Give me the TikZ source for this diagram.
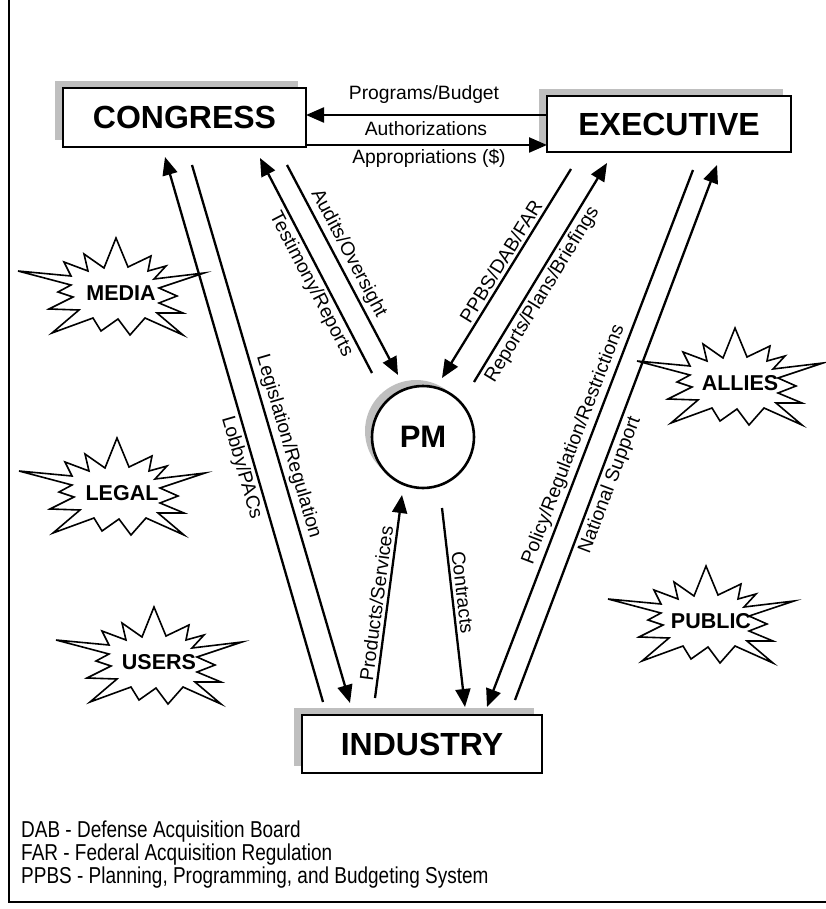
\documentclass[tikz,border=0pt]{standalone}
\usepackage{fontspec}
\setmainfont{Liberation Sans}
\newfontfamily\legendfont[FakeStretch=0.825]{Liberation Sans}
\usetikzlibrary{arrows.meta,shadows}

\begin{document}
\begin{tikzpicture}[x=1pt,y=-1pt,
  bx/.style={draw,line width=2.6pt,fill=white,inner sep=0pt,
    font=\fontsize{32}{38}\selectfont\bfseries,
    general shadow={shadow xshift=-8pt,shadow yshift=7pt,fill=gray!50}},
  pmnode/.style={draw,circle,line width=2.6pt,fill=white,inner sep=0pt,minimum size=102pt,
    font=\fontsize{31}{37}\selectfont\bfseries,
    general shadow={shadow xshift=-7pt,shadow yshift=6pt,fill=gray!50}},
  arr/.style={line width=2.3pt,-{Triangle[length=18pt,width=15pt]}},
  lab/.style={font=\fontsize{19.3}{23}\selectfont,inner sep=3pt},
  hlab/.style={font=\fontsize{19.3}{23}\selectfont,inner sep=0pt,anchor=base},
  burstline/.style={line width=1.6pt,line join=miter},
  bursttext/.style={font=\fontsize{21.5}{25}\selectfont\bfseries,inner sep=0pt},
  leg/.style={font=\legendfont\fontsize{23}{27}\selectfont,anchor=base west,inner sep=0pt}]

\useasboundingbox (0,0) rectangle (826,909);

% frame
\draw[line width=1.6pt] (9,0) -- (9,902) -- (826,902);

% main nodes
\node[bx,minimum width=243pt,minimum height=59pt] (congress) at (184.5,117.5) {CONGRESS};
\node[bx,minimum width=244pt,minimum height=56pt] (executive) at (669,124) {EXECUTIVE};
\node[bx,minimum width=240pt,minimum height=58pt] (industry) at (422,744) {INDUSTRY};
\node[pmnode] (pm) at (423,437) {PM};

% horizontal connectors
\coordinate (pbA) at (547,115);
\coordinate (pbB) at (306,115);
\coordinate (apA) at (306,145);
\coordinate (apB) at (547,145);
\draw[arr] (pbA) -- (pbB);
\draw[arr] (apA) -- (apB);
\node[hlab] (lprog) at (424,99.5) {Programs/Budget};
\node[hlab] (lauth) at (426,136) {Authorizations};
\node[hlab] (lappr) at (429,164) {Appropriations (\$)};

% diagonal connector end points
\coordinate (lobA) at (323,702);  \coordinate (lobB) at (165,157);
\coordinate (legA) at (192,165);  \coordinate (legB) at (350,703);
\coordinate (tesA) at (372,373);  \coordinate (tesB) at (260,158);
\coordinate (audA) at (287,165);  \coordinate (audB) at (398,375);
\coordinate (ppbA) at (571,169);  \coordinate (ppbB) at (442,378);
\coordinate (repA) at (474,382);  \coordinate (repB) at (607,163);
\coordinate (polA) at (693,170);  \coordinate (polB) at (487,707);
\coordinate (natA) at (515,700);  \coordinate (natB) at (717,165);
\coordinate (proA) at (375,698);  \coordinate (proB) at (402,495);
\coordinate (conA) at (442,508);  \coordinate (conB) at (465,707);

\draw[arr] (lobA) -- node[lab,sloped,below,pos=0.437] (llob) {Lobby/PACs} (lobB);
\draw[arr] (legA) -- node[lab,sloped,above,pos=0.53] (lleg) {Legislation/Regulation} (legB);
\draw[arr] (tesA) -- node[lab,sloped,below,pos=0.44] (ltes) {Testimony/Reports} (tesB);
\draw[arr] (audA) -- node[lab,sloped,above,pos=0.45] (laud) {Audits/Oversight} (audB);
\draw[arr] (ppbA) -- node[lab,sloped,above,pos=0.47] (lppb) {PPBS/DAB/FAR} (ppbB);
\draw[arr] (repA) -- node[lab,sloped,below,pos=0.43] (lrep) {Reports/Plans/Briefings} (repB);
\draw[arr] (polA) -- node[lab,sloped,above,pos=0.52] (lpol) {Policy/Regulation/Restrictions} (polB);
\draw[arr] (natA) -- node[lab,sloped,below,pos=0.41] (lnat) {National Support} (natB);
\draw[arr] (proA) -- node[lab,sloped,above,pos=0.46] (lpro) {Products/Services} (proB);
\draw[arr] (conA) -- node[lab,sloped,above,pos=0.43] (lcon) {Contracts} (conB);

% bursts
\newcommand\myburst[3]{%
  \begin{scope}[shift={(#1)}]
    \draw[burstline] plot coordinates {(-103,-22) (-50,-17) (-57,-31) (-33,-22) (-37,-39) (-17,-25)
      (-5,-55) (7,-26) (30,-37) (27,-22) (45,-27) (33,-14) (83,-20) (38,-5) (56,3) (38,10)
      (62,20) (36,20) (62,42) (24,25) (9,42) (-3,26) (-20,38) (-28,25) (-69,40) (-42,17)
      (-72,16) (-48,4) (-63,-1) (-50,-8)} -- cycle;
    \node[bursttext] (#2) at (0,0) {#3};
  \end{scope}}
\myburst{121,293}{media}{MEDIA}
\myburst{122,493}{legal}{LEGAL}
\myburst{159,662}{users}{USERS}
\myburst{740,383}{allies}{ALLIES}
\myburst{711,621}{public}{PUBLIC}

% legend
\node[leg] (leg1) at (21,837) {DAB - Defense Acquisition Board};
\node[leg] (leg2) at (21,860) {FAR - Federal Acquisition Regulation};
\node[leg] (leg3) at (21,883) {PPBS - Planning, Programming, and Budgeting System};
\end{tikzpicture}
\end{document}
